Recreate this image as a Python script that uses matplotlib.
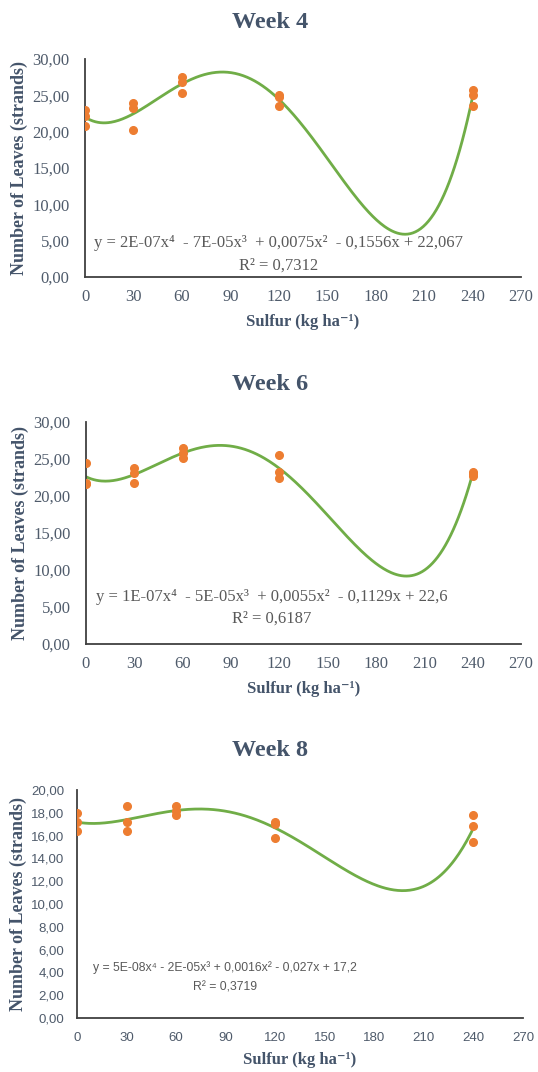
import numpy as np
import matplotlib.pyplot as plt
from matplotlib.ticker import FuncFormatter

# sulfur doses (kg/ha), three replicates each
sulfur = [0, 0, 0, 30, 30, 30, 60, 60, 60, 120, 120, 120, 240, 240, 240]

week4 = [23.0, 22.2, 20.8, 23.9, 23.3, 20.2, 27.5, 26.9, 25.3, 25.0, 24.8, 23.6, 25.8, 25.0, 23.5]
week6 = [24.4, 21.8, 21.6, 23.8, 23.1, 21.8, 26.5, 25.8, 25.1, 25.5, 23.2, 22.5, 23.3, 23.0, 22.7]
week8 = [17.95, 17.2, 16.4, 18.6, 17.2, 16.4, 18.6, 18.2, 17.8, 17.2, 17.0, 15.8, 17.8, 16.8, 15.4]

titles = ["Week 4", "Week 6", "Week 8"]
equations = ["y = 2E-07x⁴  - 7E-05x³  + 0,0075x²  - 0,1556x + 22,067",
             "y = 1E-07x⁴  - 5E-05x³  + 0,0055x²  - 0,1129x + 22,6",
             "y = 5E-08x⁴ - 2E-05x³ + 0,0016x² - 0,027x + 17,2"]
r2_labels = ["R² = 0,7312", "R² = 0,6187", "R² = 0,3719"]
y_max = [30, 30, 20]
y_step = [5, 5, 2]
x_ticks = [0, 30, 60, 90, 120, 150, 180, 210, 240, 270]

title_col = '#44546A'
tick_col = '#4F5B6B'
serif = ['Liberation Serif', 'DejaVu Serif']
sans = ['Liberation Sans', 'DejaVu Sans']

fig = plt.figure(figsize=(5.38, 10.72), dpi=100)
W, H = 538, 1072
# pixel boxes: left, right, top, bottom
boxes = [(85, 521, 59, 277), (86, 521, 422, 644), (77, 523, 790, 1018)]
title_y = [22, 385, 750]
eq_pos = [(279, 243, 266), (272, 597, 619), (225, 968, 987)]

for i, data in enumerate([week4, week6, week8]):
    l, r, t, b = boxes[i]
    ax = fig.add_axes([l / W, 1 - b / H, (r - l) / W, (b - t) / H])
    tick_font = serif if i < 2 else sans

    coef = np.polyfit(sulfur, data, 4)
    xs = np.linspace(0, 240, 300)
    ax.plot(xs, np.polyval(coef, xs), color='#70AD47', lw=2, zorder=2)
    ax.plot(sulfur, data, 'o', color='#ED7D31', ms=5.5, zorder=3)

    ax.set_xlim(0, 270)
    ax.set_ylim(0, y_max[i])
    ax.set_xticks(x_ticks)
    ax.set_yticks(np.arange(0, y_max[i] + 0.01, y_step[i]))
    ax.yaxis.set_major_formatter(FuncFormatter(lambda v, p: f"{v:.2f}".replace('.', ',')))
    if i < 2:
        ax.tick_params(axis='y', length=0, labelsize=12, labelcolor=tick_col, pad=11)
        ax.tick_params(axis='x', length=0, labelsize=12, labelcolor=tick_col, pad=9)
    else:
        ax.tick_params(axis='y', length=0, labelsize=9.5, labelcolor=tick_col, pad=9)
        ax.tick_params(axis='x', length=0, labelsize=9.5, labelcolor=tick_col, pad=10)
    for lab in ax.get_xticklabels() + ax.get_yticklabels():
        lab.set_fontfamily(tick_font)
    for s in ['top', 'right']:
        ax.spines[s].set_visible(False)
    for s in ['left', 'bottom']:
        ax.spines[s].set_color('#404040')
        ax.spines[s].set_linewidth(1.3)

    ax.set_xlabel("Sulfur (kg ha⁻¹)", fontfamily=serif, fontweight='bold',
                  fontsize=12, color=title_col, labelpad=6)
    ax.set_ylabel("Number of Leaves (strands)", fontfamily=serif, fontweight='bold',
                  fontsize=13, color=title_col, labelpad=3)

    fig.text(270 / W, 1 - title_y[i] / H, titles[i], ha='center', va='center',
             fontfamily=serif, fontweight='bold', fontsize=17.5, color=title_col)
    ex, ey, ry = eq_pos[i]
    fs = 12 if i < 2 else 8.8
    fig.text(ex / W, 1 - ey / H, equations[i], ha='center', va='center',
             fontfamily=tick_font, fontsize=fs, color='#595959')
    fig.text(ex / W, 1 - ry / H, r2_labels[i], ha='center', va='center',
             fontfamily=tick_font, fontsize=fs, color='#595959')

fig.savefig("out.png", dpi=100)
